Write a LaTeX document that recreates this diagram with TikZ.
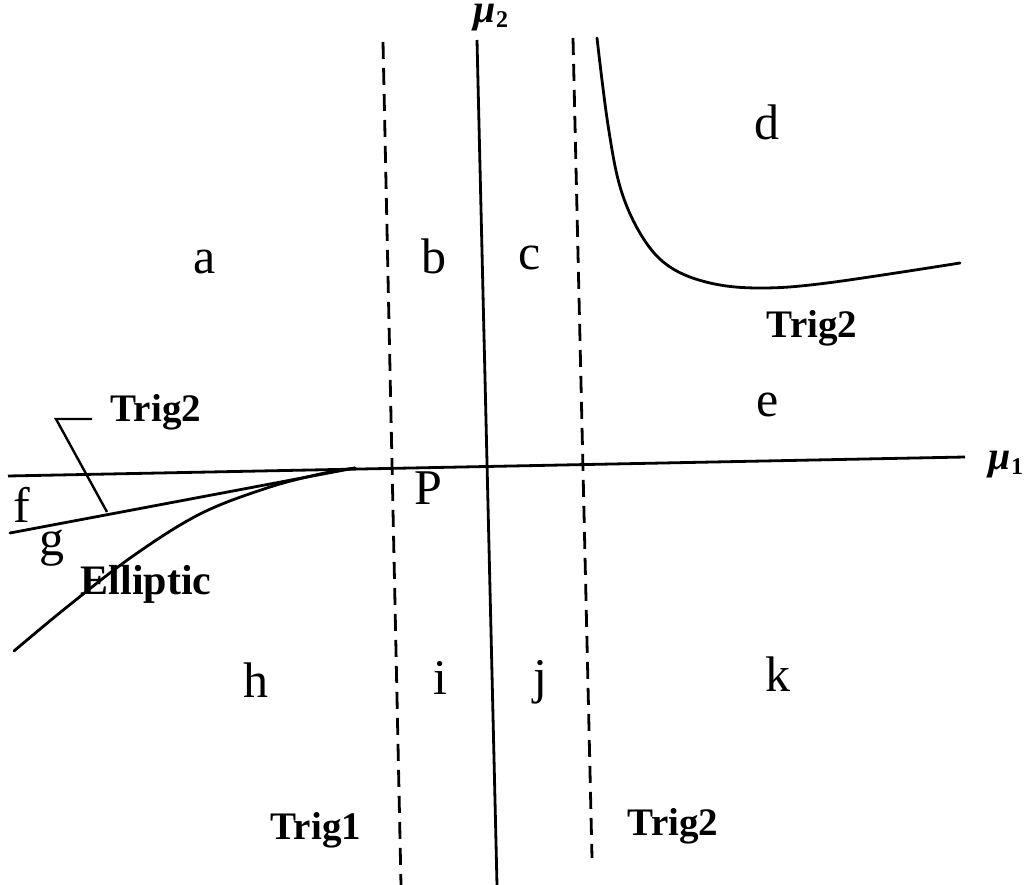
\documentclass[tikz,border=0pt]{standalone}
\usepackage{fontspec}
\setmainfont{Liberation Serif}
\newcommand{\musym}[1]{{\bfseries\itshape μ}\raisebox{-0.25ex}{\fontsize{24}{26}\selectfont\bfseries #1}}
\tikzset{
  axisline/.style={line width=2.8pt},
  curveline/.style={line width=2.8pt, line cap=round},
  dashline/.style={line width=2.8pt, dash pattern=on 17pt off 9pt},
  region/.style={inner sep=0pt, font=\fontsize{50}{56}\selectfont},
  curvelabel/.style={inner sep=0pt, font=\fontsize{39}{42}\selectfont\bfseries},
  axislabel/.style={inner sep=0pt, font=\fontsize{40}{44}\selectfont}
}
\begin{document}
\begin{tikzpicture}[x=1pt,y=-1pt]
\useasboundingbox (0,0) rectangle (1031,885);
% axes
\coordinate (h0) at (8,476);
\coordinate (h1) at (965,457);
\coordinate (v0) at (477,40);
\coordinate (v1) at (497,885);
\draw[axisline] (h0) -- (h1);
\draw[axisline] (v0) -- (v1);
% dashed lines
\coordinate (dl0) at (383,42);
\coordinate (dl1) at (401,885);
\coordinate (dr0) at (573,38);
\coordinate (dr1) at (592,858);
\draw[dashline] (dl0) -- (dl1);
\draw[dashline] (dr0) -- (dr1);
% hyperbola (Trig2, upper right)
\draw[curveline] plot[smooth, tension=0.6] coordinates {(597,38) (608,125) (621,190) (643,238) (670,267) (710,283) (760,288) (827,283) (960,263)};
% left Trig2 line and Elliptic curve
\coordinate (pt) at (355,468);
\coordinate (t0) at (10,533);
\draw[curveline] (t0) -- (pt);
\draw[curveline] plot[smooth, tension=0.6] coordinates {(14,651) (67,607) (133,556) (200,514) (267,488) (320,474) (355,468)};
% leader for Trig2
\coordinate (ld0) at (92,419);
\coordinate (ld1) at (56,419);
\coordinate (ld2) at (107,512);
\draw[line width=2.4pt] (ld0) -- (ld1) -- (ld2);
% axis labels
\node[axislabel] (mu1) at (1006,465) {\musym{1}};
\node[axislabel, anchor=base, text height=17pt, text depth=8pt] (mu2) at (491,23) {\musym{2}};
% region labels
\node[region] (a) at (205,262) {a};
\node[region] (b) at (434,256) {b};
\node[region] (c) at (530,258) {c};
\node[region] (d) at (767,122) {d};
\node[region] (e) at (768,405) {e};
\node[region] (f) at (22,505) {f};
\node[region] (g) at (52,548) {g};
\node[region] (P) at (428,488) {P};
\node[region] (h) at (256,680) {h};
\node[region] (i) at (440,678) {i};
\node[region] (j) at (540,682) {j};
\node[region] (k) at (778,674) {k};
% curve labels
\node[curvelabel] (trigA) at (812,328) {Trig2};
\node[curvelabel] (trigB) at (156,412) {Trig2};
\node[curvelabel, font=\fontsize{42}{46}\selectfont\bfseries] (ell) at (146,584) {Elliptic};
\node[curvelabel] (trig1) at (316,830) {Trig1};
\node[curvelabel] (trigC) at (673,826) {Trig2};
\end{tikzpicture}
\end{document}
